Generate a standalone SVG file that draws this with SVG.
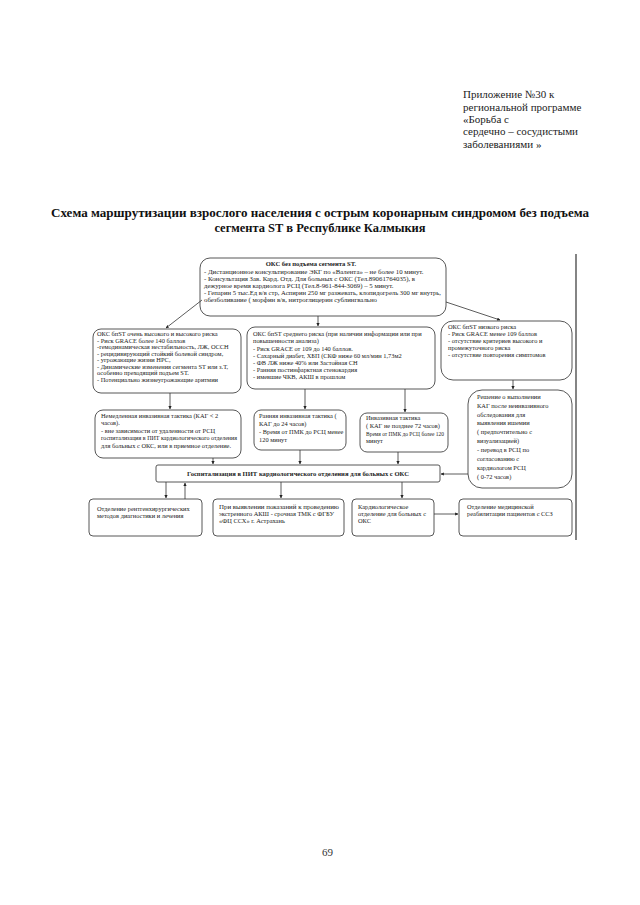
<svg xmlns="http://www.w3.org/2000/svg" width="640" height="905" viewBox="0 0 640 905">
<style>
.hdr{font-family:"Liberation Serif",serif;font-size:11px;fill:#222}
.ttl{font-family:"Liberation Serif",serif;font-size:12.5px;font-weight:bold;fill:#111}
.t{font-family:"Liberation Serif",serif;font-size:6.4px;fill:#222}
.tt{font-family:"Liberation Serif",serif;font-size:6.8px;fill:#222}
.tb{font-family:"Liberation Serif",serif;font-size:6.6px;fill:#222;font-weight:bold}
.box{fill:#fff;stroke:#444;stroke-width:0.9}
.ln{stroke:#333;stroke-width:0.8;fill:none;marker-end:url(#ah)}
.pg{font-family:"Liberation Serif",serif;font-size:11px;fill:#333}
</style>
<defs>
<marker id="ah" viewBox="0 0 10 10" refX="9" refY="5" markerWidth="4" markerHeight="4" orient="auto"><path d="M0,0 L10,5 L0,10 z" fill="#222"/></marker>
</defs>
<rect width="640" height="905" fill="#fff"/>
<g id="header">
<text class="hdr" x="463" y="98">Приложение №30 к</text>
<text class="hdr" x="463" y="111">региональной программе</text>
<text class="hdr" x="463" y="123">«Борьба с</text>
<text class="hdr" x="463" y="135">сердечно – сосудистыми</text>
<text class="hdr" x="463" y="148">заболеваниями »</text>
</g>
<g id="title">
<text class="ttl" x="320" y="217" text-anchor="middle" textLength="538" lengthAdjust="spacingAndGlyphs">Схема маршрутизации взрослого населения с острым коронарным синдромом без подъема</text>
<text class="ttl" x="320" y="232" text-anchor="middle">сегмента ST в Республике Калмыкия</text>
</g>
<g id="n-top">
<rect class="box" x="200" y="258" width="246" height="58" rx="10"/>
<text class="tb" x="311" y="266" text-anchor="middle">ОКС без подъема сегмента ST.</text>
<text class="tt" x="204" y="274">- Дистанционное консультирование ЭКГ по «Валента» – не более 10 минут.</text>
<text class="tt" x="204" y="281">- Консультация Зав. Кард. Отд. Для больных с ОКС (Тел.89061764035), в</text>
<text class="tt" x="204" y="288">дежурное время кардиолога РСЦ (Тел.8-961-844-3069) – 5 минут.</text>
<text class="tt" x="204" y="295" textLength="237" lengthAdjust="spacingAndGlyphs">- Гепарин 5 тыс.Ед в/в стр, Аспирин 250 мг разжевать, клопидогрель 300 мг внутрь,</text>
<text class="tt" x="204" y="302">обезболивание ( морфин в/в, нитроглицерин сублингвально</text>
</g>
<g id="n-high">
<rect class="box" x="93" y="329" width="148" height="64" rx="8"/>
<text class="t" x="97" y="336">ОКС бпST очень высокого и высокого риска</text>
<text class="t" x="97" y="343">- Риск GRACE более 140 баллов</text>
<text class="t" x="97" y="349">-гемодинамическая нестабильность, ЛЖ, ОССН</text>
<text class="t" x="97" y="356">- рецидивирующий стойкий болевой синдром,</text>
<text class="t" x="97" y="362">- угрожающие жизни НРС,</text>
<text class="t" x="97" y="369">- Динамические изменения сегмента ST или з.Т,</text>
<text class="t" x="97" y="375">особенно преходящий подъем ST.</text>
<text class="t" x="97" y="382">- Потенциально жизнеугрожающие аритмии</text>
</g>
<g id="n-mid">
<rect class="box" x="247" y="327" width="188" height="62" rx="8"/>
<text class="t" x="253" y="336">ОКС бпST среднего риска (при наличии информации или при</text>
<text class="t" x="253" y="343">повышенности анализа)</text>
<text class="t" x="253" y="351">- Риск GRACE от 109 до 140 баллов.</text>
<text class="t" x="253" y="358">- Сахарный диабет, ХБП (СКФ ниже 60 мл/мин 1,73м2</text>
<text class="t" x="253" y="365">- ФВ ЛЖ ниже 40% или Застойная СН</text>
<text class="t" x="253" y="372">- Ранняя постинфарктная стенокардия</text>
<text class="t" x="253" y="379">- имевшие ЧКВ, АКШ в прошлом</text>
</g>
<g id="n-low">
<rect class="box" x="441" y="321" width="131" height="59" rx="12"/>
<text class="t" x="448" y="329">ОКС бпST низкого риска</text>
<text class="t" x="448" y="336">- Риск GRACE менее 109 баллов</text>
<text class="t" x="448" y="343">- отсутствие критериев высокого и</text>
<text class="t" x="448" y="350">промежуточного риска</text>
<text class="t" x="448" y="357">- отсутствие повторения симптомов</text>
</g>
<g id="n-immediate">
<rect class="box" x="95" y="410" width="146" height="48" rx="8"/>
<text class="t" x="101" y="418">Немедленная инвазивная тактика (КАГ &lt; 2</text>
<text class="t" x="101" y="425">часов).</text>
<text class="t" x="101" y="433">- вне зависимости от удаленности от РСЦ</text>
<text class="t" x="101" y="440" textLength="136" lengthAdjust="spacingAndGlyphs">госпитализация в ПИТ кардиологического отделения</text>
<text class="t" x="101" y="448">для больных с ОКС, или в приемное отделение.</text>
</g>
<g id="n-early">
<rect class="box" x="254" y="410" width="92" height="40" rx="7"/>
<text class="t" x="259" y="418">Ранняя инвазивная тактика (</text>
<text class="t" x="259" y="426">КАГ до 24 часов)</text>
<text class="t" x="259" y="434">- Время от ПМК до РСЦ менее</text>
<text class="t" x="259" y="442">120 минут</text>
</g>
<g id="n-invasive">
<rect class="box" x="360" y="413" width="88" height="39" rx="7"/>
<text class="t" x="366" y="420">Инвазивная тактика</text>
<text class="t" x="366" y="428">( КАГ не позднее 72 часов)</text>
<text class="t" x="366" y="436" textLength="78" lengthAdjust="spacingAndGlyphs">Время от ПМК до РСЦ более 120</text>
<text class="t" x="366" y="443">минут</text>
</g>
<g id="n-decision">
<rect class="box" x="468" y="390" width="104" height="98" rx="14"/>
<text class="t" x="477" y="399">Решение о выполнении</text>
<text class="t" x="477" y="408">КАГ после неинвазивного</text>
<text class="t" x="477" y="417">обследования для</text>
<text class="t" x="477" y="425">выявления ишемии</text>
<text class="t" x="477" y="434">( предпочтительно с</text>
<text class="t" x="477" y="443">визуализацией)</text>
<text class="t" x="477" y="452">- перевод в РСЦ по</text>
<text class="t" x="477" y="461">согласованию с</text>
<text class="t" x="477" y="470">кардиологом РСЦ</text>
<text class="t" x="477" y="479">( 0-72 часов)</text>
</g>
<g id="n-hosp">
<rect class="box" x="156" y="465" width="284" height="17" rx="2"/>
<text class="tb" x="298" y="475.5" text-anchor="middle">Госпитализация в ПИТ кардиологического отделения для больных с ОКС</text>
</g>
<g id="n-xray">
<rect class="box" x="89" y="499" width="113" height="37" rx="4"/>
<text class="t" x="97" y="511">Отделение рентгенхирургических</text>
<text class="t" x="97" y="518">методов диагностики и лечения</text>
</g>
<g id="n-tmk">
<rect class="box" x="213" y="499" width="131" height="37" rx="4"/>
<text class="t" x="219" y="509" textLength="120" lengthAdjust="spacingAndGlyphs">При выявлении показаний к проведению</text>
<text class="t" x="219" y="516">экстренного АКШ - срочная ТМК с ФГБУ</text>
<text class="t" x="219" y="523">«ФЦ ССХ» г. Астрахань</text>
</g>
<g id="n-cardio">
<rect class="box" x="352" y="499" width="82" height="37" rx="4"/>
<text class="t" x="358" y="509">Кардиологическое</text>
<text class="t" x="358" y="516">отделение для больных с</text>
<text class="t" x="358" y="523">ОКС</text>
</g>
<g id="n-rehab">
<rect class="box" x="459" y="499" width="113" height="37" rx="4"/>
<text class="t" x="467" y="509">Отделение медицинской</text>
<text class="t" x="467" y="516">реабилитации пациентов с ССЗ</text>
</g>
<g id="connectors">
<line class="ln" x1="202" y1="300" x2="166" y2="328"/>
<line class="ln" x1="318" y1="316" x2="318" y2="326"/>
<line class="ln" x1="446" y1="302" x2="500" y2="320"/>
<line class="ln" x1="170" y1="393" x2="170" y2="409"/>
<line class="ln" x1="305" y1="389" x2="305" y2="409"/>
<line class="ln" x1="405" y1="389" x2="405" y2="412"/>
<line class="ln" x1="513" y1="380" x2="513" y2="389"/>
<line class="ln" x1="213" y1="458" x2="213" y2="464"/>
<line class="ln" x1="300" y1="450" x2="300" y2="464"/>
<line class="ln" x1="398" y1="452" x2="398" y2="464"/>
<line class="ln" x1="468" y1="474" x2="441" y2="474"/>
<line class="ln" x1="166" y1="482" x2="166" y2="498"/>
<line class="ln" x1="185" y1="499" x2="185" y2="483"/>
<line class="ln" x1="281" y1="482" x2="281" y2="498"/>
<line class="ln" x1="402" y1="482" x2="402" y2="498"/>
<line class="ln" x1="434" y1="514" x2="458" y2="514"/>
</g>
<line x1="576" y1="254" x2="576" y2="540" stroke="#333" stroke-width="1.2"/>
<text class="pg" x="322" y="856">69</text>
</svg>
